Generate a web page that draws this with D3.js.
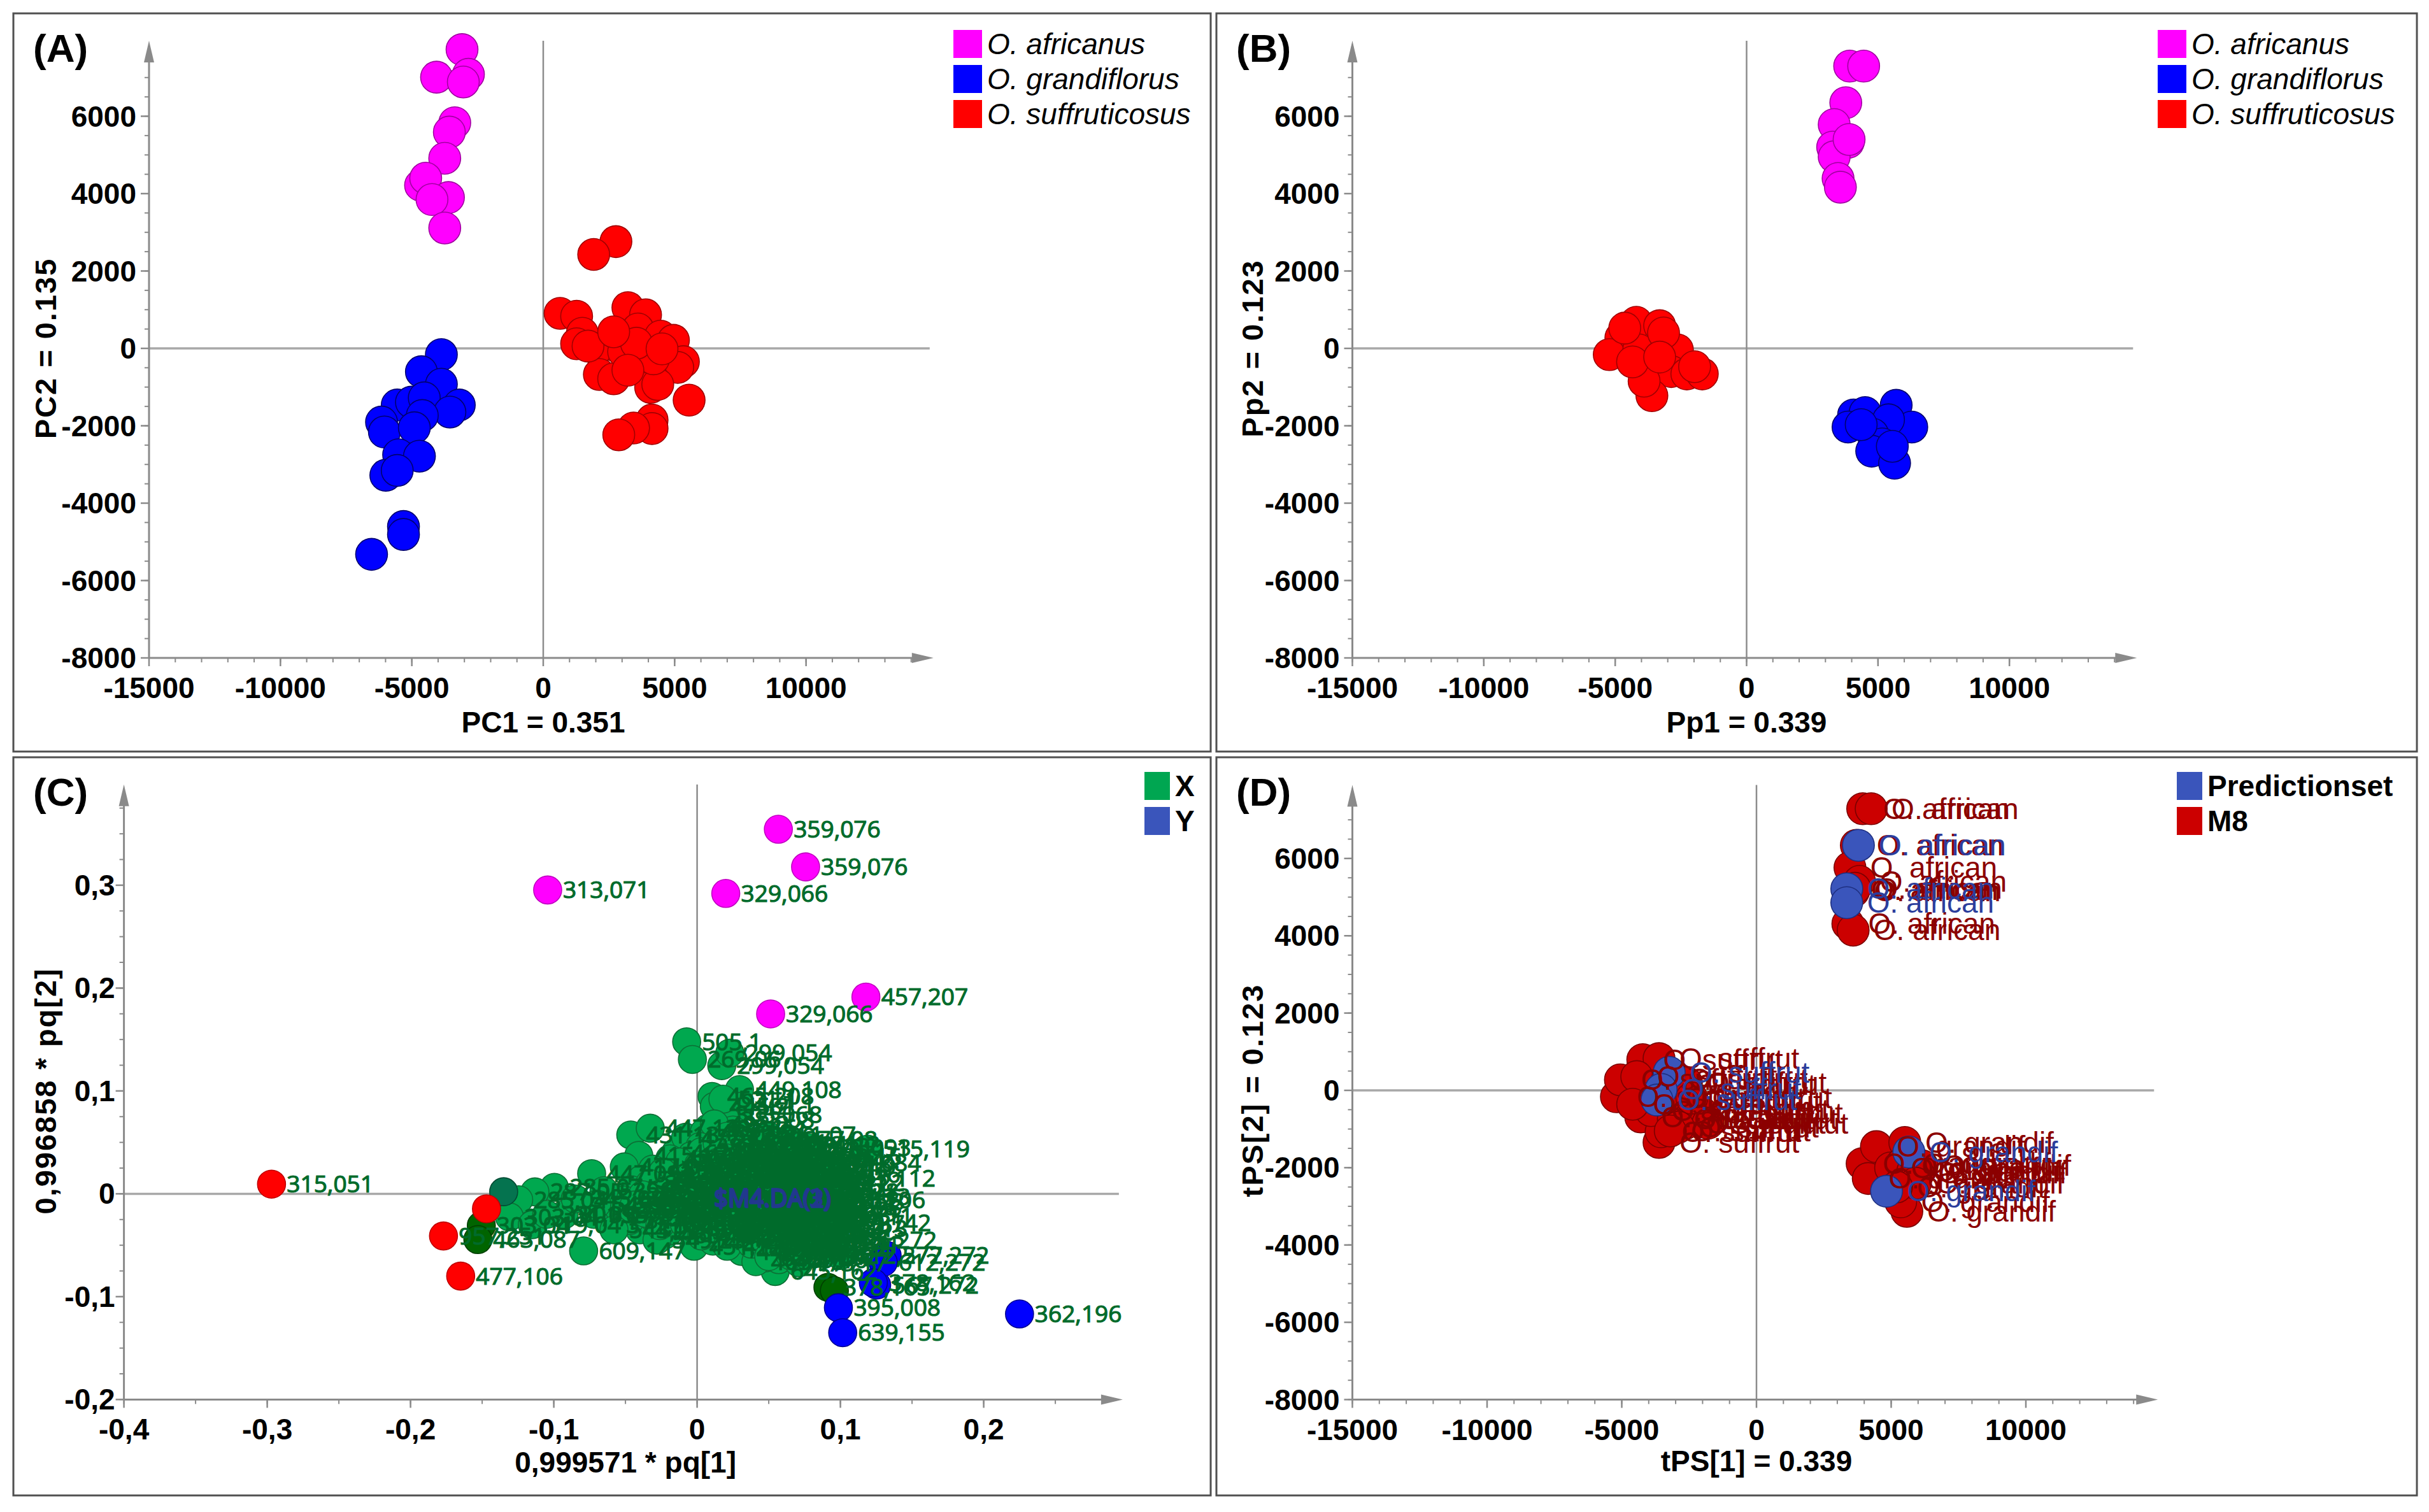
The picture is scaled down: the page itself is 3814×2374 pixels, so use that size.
<!DOCTYPE html>
<html><head><meta charset="utf-8">
<script src="https://cdn.jsdelivr.net/npm/d3@7"></script>
<style>html,body{margin:0;padding:0;background:#fff}</style>
</head><body>
<svg id="c" width="3814" height="2374" xmlns="http://www.w3.org/2000/svg"></svg>
<script>
// ---------------- DATA ----------------
const speciesNames = ["O. africanus", "O. grandiflorus", "O. suffruticosus"];
const speciesFill = ["#ff00ff", "#0000ff", "#ff0000"];
const speciesStroke = ["#a000a0", "#00006e", "#a00000"];

// Panel A (PCA scores)
const pcaAfricanus = [[-3090,7723],[-4060,7010],[-2847,7084],[-3041,6885],[-3367,5832],[-3573,5590],[-3748,4914],[-4668,4216],[-4473,4399],[-3607,3900],[-4233,3847],[-3748,3112]];
const pcaGrandiflorus = [[-3876,-161],[-4636,-603],[-3876,-926],[-5556,-1463],[-5015,-1389],[-4527,-1278],[-3194,-1463],[-3551,-1646],[-6153,-1904],[-6044,-2161],[-4602,-1735],[-4905,-2051],[-5502,-2750],[-4711,-2786],[-5990,-3278],[-5556,-3155],[-5318,-4603],[-5318,-4809],[-6532,-5323]];
const pcaSuffruticosus = [[2765,2760],[1920,2428],[641,906],[1270,832],[1488,390],[1270,119],[3221,1053],[3893,868],[3600,501],[4466,318],[4954,208],[2570,97],[2029,-13],[5333,-344],[5117,-491],[3653,-418],[4087,-675],[2136,-675],[2680,-786],[4087,-1007],[4357,-932],[5551,-1338],[4141,-1852],[4141,-2072],[3437,-2058],[2874,-2234],[3058,-87],[4197,-270],[1704,59],[3546,133],[3221,-565],[4520,-13],[2680,428]];

// Panel B (predictive scores)
const plsAfricanus = [[3922,7296],[4454,7296],[3774,6349],[3333,5787],[3864,5326],[3274,5201],[3333,4952],[3481,4390],[3568,4166],[3900,5400]];
const plsGrandiflorus = [[5691,-1471],[4070,-1720],[4510,-1658],[3860,-2033],[6284,-2033],[5400,-1845],[4800,-2219],[5160,-2468],[4760,-2656],[5631,-2968],[5545,-2530],[4360,-1970]];
const plsSuffruticosus = [[-4194,674],[-3308,587],[-4784,275],[-5226,-161],[-4105,-36],[-2633,-36],[-3750,-473],[-2866,-598],[-2274,-660],[-1686,-660],[-3604,-1221],[-3900,-847],[-3160,400],[-4636,524],[-4340,-349],[-3308,-224],[-1978,-473]];

// Panel C (loadings): [pq1, pq2, label]
const loadGreen = [
 [-0.0073,0.1478,"505,1"],[-0.0033,0.1306,"269,06"],[0.0172,0.1246,"299,054"],[0.0228,0.1368,"299,054"],
 [0.0104,0.0947,"465,208"],[0.0296,0.1013,"449,108"],[0.016,0.077,"303,068"],[0.030,0.085,"481,1"],
 [0.012,0.085,"445,2"],[0.020,0.072,"383,08"],[0.025,0.062,"375,1"],[0.008,0.064,"407,15"],[0.018,0.092,"521,1"],
 [-0.0463,0.0572,"431,13"],[-0.0327,0.0638,"447,13"],[-0.0407,0.0373,"415,17"],[-0.0736,0.0196,"447,092"],
 [-0.0508,0.0262,"417,09"],[-0.0996,0.0063,"285,07"],[-0.1132,0.0019,"287,05"],[-0.1245,-0.0058,"285,04"],
 [-0.0792,-0.0555,"609,147"],[-0.0021,-0.051,"451,12"],[-0.0225,-0.040,"463,12"],[0.0545,-0.0755,"645,162"],
 [0.0477,-0.0623,"627,16"],[0.0613,-0.060,"611,16"],[0.119,0.0434,"515,119"],[-0.131,-0.0224,"303,04"],
 [-0.0928,-0.0202,"301,07"],[-0.061,-0.0113,"431,15"],[-0.115,-0.030,"319,04"],[-0.105,-0.020,"331,09"],
 [-0.085,-0.005,"345,08"],[-0.072,-0.020,"359,1"],[-0.060,-0.030,"371,11"],[-0.045,-0.010,"389,12"],
 [-0.035,0.005,"401,1"],[-0.040,-0.035,"419,13"],[-0.025,-0.020,"433,14"],[-0.020,0.015,"445,15"],
 [-0.015,0.040,"461,15"],[-0.008,0.055,"477,17"],[0.005,0.060,"487,18"],[0.012,0.068,"493,2"],
 [0.095,0.015,"327,112"],[0.088,-0.006,"491,106"],[0.092,-0.028,"579,142"],[0.096,-0.045,"626,272"],
 [0.085,0.030,"283,084"],[0.078,0.045,"325,093"],[0.100,-0.060,"612,272"],
 [0.021,0.056,"313,09"],[0.036,0.052,"339,1"],[0.049,0.057,"361,07"],[0.064,0.053,"377,08"],
 [0.002,0.046,"383,11"],[0.016,0.043,"397,09"],[0.031,0.047,"405,12"],[0.044,0.041,"411,1"],[0.059,0.046,"423,13"],[0.071,0.042,"429,11"],
 [-0.019,0.034,"435,12"],[-0.004,0.037,"441,14"],[0.011,0.033,"453,13"],[0.024,0.036,"459,1"],[0.041,0.032,"467,15"],[0.054,0.037,"471,13"],[0.069,0.033,"475,14"],[0.081,0.036,"483,15"],
 [-0.031,0.024,"489,16"],[-0.011,0.027,"495,17"],[0.005,0.023,"499,15"],[0.019,0.026,"503,16"],[0.035,0.022,"509,17"],[0.047,0.027,"511,18"],[0.063,0.023,"517,17"],[0.077,0.026,"521,19"],
 [-0.039,0.014,"525,18"],[-0.021,0.017,"529,2"],[-0.007,0.013,"533,19"],[0.009,0.016,"537,21"],[0.027,0.012,"541,2"],[0.041,0.017,"547,22"],[0.059,0.013,"551,21"],[0.071,0.016,"555,23"],[0.083,0.011,"559,22"],
 [-0.046,0.004,"563,24"],[-0.029,0.007,"567,23"],[-0.013,0.003,"571,25"],[0.003,0.006,"575,24"],[0.017,0.002,"581,26"],[0.035,0.006,"585,25"],[0.049,0.003,"589,27"],[0.067,0.007,"593,26"],[0.079,0.002,"597,28"],
 [-0.051,-0.006,"601,27"],[-0.033,-0.003,"605,29"],[-0.019,-0.007,"613,28"],[-0.001,-0.004,"617,3"],[0.015,-0.006,"621,29"],[0.029,-0.003,"625,31"],[0.047,-0.007,"629,3"],[0.061,-0.004,"633,32"],[0.077,-0.006,"637,31"],[0.087,-0.003,"641,33"],
 [-0.054,-0.016,"283,05"],[-0.041,-0.013,"291,06"],[-0.023,-0.017,"295,07"],[-0.009,-0.014,"305,05"],[0.009,-0.016,"309,06"],[0.023,-0.013,"317,07"],[0.041,-0.017,"321,08"],[0.055,-0.014,"333,06"],[0.071,-0.016,"337,07"],[0.081,-0.013,"343,08"],
 [-0.047,-0.026,"347,09"],[-0.031,-0.023,"349,1"],[-0.013,-0.027,"353,07"],[0.001,-0.024,"357,08"],[0.019,-0.026,"363,09"],[0.033,-0.023,"367,1"],[0.051,-0.027,"369,11"],[0.065,-0.024,"373,09"],[0.079,-0.026,"379,1"],[0.089,-0.022,"381,11"],
 [-0.019,-0.036,"385,12"],[-0.003,-0.033,"391,1"],[0.013,-0.037,"393,11"],[0.027,-0.034,"399,12"],[0.045,-0.036,"403,13"],[0.059,-0.033,"407,11"],[0.075,-0.037,"409,12"],[0.085,-0.034,"413,13"],
 [0.011,-0.046,"421,14"],[0.025,-0.043,"425,12"],[0.043,-0.047,"427,13"],[0.057,-0.044,"437,14"],[0.069,-0.046,"439,15"],[0.083,-0.043,"443,13"],
 [0.031,-0.056,"449,14"],[0.046,-0.053,"455,15"],[0.062,-0.057,"457,16"],[0.074,-0.054,"463,14"],
 [0.041,-0.066,"465,15"],[0.057,-0.064,"469,16"],[0.071,-0.067,"473,17"],
 [0.008,0.029,"479,16"],[0.038,0.029,"485,17"],[0.052,0.009,"491,18"],[0.022,-0.009,"497,16"],[0.044,-0.020,"501,17"],[0.012,-0.030,"507,18"],
 [0.058,0.027,"513,19"],[0.030,0.040,"519,18"],[0.066,-0.010,"523,2"],[0.004,0.010,"527,19"],[0.036,-0.040,"531,2"],[0.050,0.048,"535,21"],
 [-0.065,0.003,"539,2"],[-0.058,-0.035,"543,22"],[-0.070,-0.010,"545,21"],[-0.028,-0.045,"549,23"],
 [0.003,0.041,"284,1"],[0.014,0.049,"286,11"],[0.027,0.044,"288,12"],[0.039,0.05,"290,1"],[0.052,0.043,"292,13"],[0.066,0.048,"294,12"],
 [-0.012,0.031,"296,1"],[0.001,0.028,"298,11"],[0.015,0.031,"300,13"],[0.029,0.03,"302,12"],[0.044,0.035,"304,1"],[0.061,0.031,"306,14"],[0.074,0.029,"308,13"],
 [-0.024,0.021,"310,12"],[-0.004,0.019,"312,14"],[0.012,0.021,"314,13"],[0.025,0.018,"316,15"],[0.039,0.024,"318,14"],[0.053,0.019,"320,16"],[0.067,0.021,"322,15"],[0.08,0.019,"324,16"],
 [-0.033,0.01,"326,15"],[-0.016,0.009,"328,17"],[-0.002,0.012,"330,16"],[0.013,0.009,"332,18"],[0.028,0.008,"334,17"],[0.043,0.011,"336,19"],[0.057,0.008,"338,18"],[0.073,0.01,"340,2"],
 [-0.038,-0.001,"342,19"],[-0.024,0.001,"344,21"],[-0.008,-0.001,"346,2"],[0.008,0.001,"348,22"],[0.023,-0.001,"350,21"],[0.04,0.001,"352,23"],[0.055,-0.001,"354,22"],[0.071,0.001,"356,24"],[0.083,-0.008,"358,23"],
 [-0.044,-0.011,"360,25"],[-0.028,-0.011,"362,24"],[-0.013,-0.009,"364,26"],[0.004,-0.011,"366,25"],[0.018,-0.01,"368,27"],[0.035,-0.011,"370,26"],[0.051,-0.009,"372,28"],[0.066,-0.012,"374,27"],[0.078,-0.019,"376,29"],
 [-0.036,-0.019,"378,28"],[-0.018,-0.021,"380,3"],[-0.004,-0.019,"382,29"],[0.013,-0.021,"384,31"],[0.029,-0.019,"386,3"],[0.047,-0.022,"388,32"],[0.06,-0.019,"390,31"],[0.073,-0.021,"392,33"],
 [-0.026,-0.031,"394,32"],[-0.009,-0.029,"396,34"],[0.007,-0.031,"398,33"],[0.022,-0.029,"400,35"],[0.039,-0.031,"402,34"],[0.054,-0.029,"404,36"],[0.069,-0.031,"406,35"],[0.083,-0.029,"408,37"],
 [0.003,-0.041,"410,36"],[0.018,-0.039,"412,38"],[0.033,-0.043,"414,37"],[0.05,-0.04,"416,39"],[0.064,-0.041,"418,38"],[0.077,-0.039,"420,4"],
 [0.021,-0.051,"422,39"],[0.038,-0.049,"424,41"],[0.053,-0.05,"426,4"],[0.067,-0.051,"428,42"],[0.08,-0.049,"430,41"],
 [0.05,-0.061,"432,43"],[0.065,-0.06,"434,42"],
 [0.034,0.015,"436,44"],[0.047,0.013,"438,43"],[0.062,0.004,"440,45"],[0.026,-0.016,"442,44"],[0.038,-0.026,"444,46"],[0.058,-0.024,"446,45"],[0.02,0.035,"448,47"],[0.045,0.022,"450,46"]
];
const loadTeal = [[-0.135,0.002,""]];
const loadDarkGreen = [[-0.1506,-0.031,"303,04"],[-0.153,-0.0445,"463,087"],[0.0913,-0.0909,"378,165"],[0.0958,-0.0942,""]];
const loadRed = [[-0.297,0.0094,"315,051"],[-0.147,-0.0146,""],[-0.177,-0.041,"957,251"],[-0.165,-0.080,"477,106"]];
const loadMagenta = [[0.0567,0.3544,"359,076"],[0.0757,0.3178,"359,076"],[-0.1043,0.2954,"313,071"],[0.020,0.292,"329,066"],[0.1178,0.1913,"457,207"],[0.0513,0.1749,"329,066"]];
const loadBlue = [[0.225,-0.1168,"362,196"],[0.0986,-0.1108,"395,008"],[0.1016,-0.135,"639,155"],[0.1253,-0.0887,"567,272"],[0.1326,-0.060,"577,272"],[0.1299,-0.0666,"612,272"],[0.123,-0.0865,"378,162"]];
const loadY = [[0.001,-0.004,"$M4.DA(1)"],[0.0015,-0.0055,"$M4.DA(2)"],[0.001,-0.005,"$M4.DA(3)"]];

// Panel D (prediction set vs model M8)
const m8Africanus = [[3943,7287],[4258,7287],[3707,6341],[3470,5764],[3825,5408],[3500,5190],[3600,5150],[3650,5230],[3392,4310],[3589,4145]];
const predAfricanus = [[3785,6341],[3352,5216],[3352,4858]];
const m8Suffrut = [[-5199,-166],[-4220,796],[-3617,822],[-5050,273],[-4444,356],[-4296,-687],[-3617,-1346],[-3541,-1072],[-3917,-523],[-3088,-743],[-2636,-852],[-2184,-743],[-4596,-358],[-3300,300],[-3000,150],[-2800,-300],[-2500,-500],[-2000,-600],[-1800,-850],[-3400,-200],[-2900,-950],[-3200,-1050],[-2600,200],[-2400,-200]];
const predSuffrut = [[-3239,466],[-3541,26],[-3693,-249]];
const m8Grandif = [[3922,-1896],[4452,-1456],[5506,-1346],[4149,-2280],[5582,-3131],[5355,-2884],[4979,-2005],[5400,-1900],[5800,-2100],[6150,-1950],[6000,-2150],[5900,-2400],[5200,-2500]];
const predGrandif = [[5657,-1594],[4827,-2609]];
const dLabels = ["O. african", "O. suffrut", "O. grandif"];

// Ticks
const scoreXTicks = [-15000,-10000,-5000,0,5000,10000];
const scoreYTicks = [-8000,-6000,-4000,-2000,0,2000,4000,6000];
const loadXTicks = [-0.4,-0.3,-0.2,-0.1,0,0.1,0.2];
const loadYTicks = [-0.2,-0.1,0,0.1,0.2,0.3];

// ---------------- DRAW ----------------
const FONT = "'Liberation Sans', Arial, Helvetica, sans-serif";
const svg = d3.select("#c");
svg.append("rect").attr("width",3814).attr("height",2374).attr("fill","#fff");

const scoreFmt = d => String(d);
const loadFmt = d => d === 0 ? "0" : (Math.round(d*10)/10).toString().replace(".", ",");

function drawPanel(p) {
  const g = svg.append("g");
  g.append("rect").attr("x",p.box[0]).attr("y",p.box[1])
    .attr("width",p.box[2]-p.box[0]).attr("height",p.box[3]-p.box[1])
    .attr("fill","none").attr("stroke","#505050").attr("stroke-width",3);
  const x = d3.scaleLinear().domain(p.xDomain).range(p.xRange);
  const y = d3.scaleLinear().domain(p.yDomain).range(p.yRange);
  const ax = p.xRange[0], ay = p.yRange[0];
  const tipX = x(p.xTip), tipY = y(p.yTip);
  const axisCol = "#8a8a8a";
  g.append("line").attr("x1",ax).attr("x2",tipX-6).attr("y1",y(0)).attr("y2",y(0))
    .attr("stroke","#a8a8a8").attr("stroke-width",3.5);
  g.append("line").attr("x1",x(0)).attr("x2",x(0)).attr("y1",ay).attr("y2",tipY)
    .attr("stroke","#8c8c8c").attr("stroke-width",2.5);
  g.append("line").attr("x1",ax).attr("x2",ax).attr("y1",ay).attr("y2",tipY+30)
    .attr("stroke",axisCol).attr("stroke-width",3);
  g.append("line").attr("x1",ax).attr("x2",tipX-30).attr("y1",ay).attr("y2",ay)
    .attr("stroke",axisCol).attr("stroke-width",3);
  g.append("path").attr("d",`M${ax-8},${tipY+34}L${ax+8},${tipY+34}L${ax},${tipY}Z`).attr("fill",axisCol);
  g.append("path").attr("d",`M${tipX-34},${ay-8}L${tipX-34},${ay+8}L${tipX},${ay}Z`).attr("fill",axisCol);
  g.selectAll(null).data(p.xMinor).enter().append("line")
    .attr("x1",d=>x(d)).attr("x2",d=>x(d)).attr("y1",ay).attr("y2",ay+7)
    .attr("stroke",axisCol).attr("stroke-width",2);
  g.selectAll(null).data(p.yMinor).enter().append("line")
    .attr("x1",ax-7).attr("x2",ax).attr("y1",d=>y(d)).attr("y2",d=>y(d))
    .attr("stroke",axisCol).attr("stroke-width",2);
  g.selectAll(null).data(p.xTicks).enter().append("line")
    .attr("x1",d=>x(d)).attr("x2",d=>x(d)).attr("y1",ay).attr("y2",ay+13)
    .attr("stroke",axisCol).attr("stroke-width",2.5);
  g.selectAll(null).data(p.yTicks).enter().append("line")
    .attr("x1",ax-13).attr("x2",ax).attr("y1",d=>y(d)).attr("y2",d=>y(d))
    .attr("stroke",axisCol).attr("stroke-width",2.5);
  g.selectAll(null).data(p.xTicks).enter().append("text")
    .attr("x",d=>x(d)).attr("y",ay+63).attr("text-anchor","middle")
    .attr("font-family",FONT).attr("font-weight","bold").attr("font-size",46)
    .text(p.fmt);
  g.selectAll(null).data(p.yTicks).enter().append("text")
    .attr("x",ax-p.yLabGap).attr("y",d=>y(d)+16).attr("text-anchor","end")
    .attr("font-family",FONT).attr("font-weight","bold").attr("font-size",46)
    .text(p.fmt);
  g.append("text").attr("x",(p.xRange[0]+p.xRange[1])/2).attr("y",p.xTitleY)
    .attr("text-anchor","middle").attr("font-family",FONT).attr("font-weight","bold")
    .attr("font-size",46).text(p.xTitle);
  g.append("text").attr("transform",`translate(${p.yTitleX},${(p.yRange[0]+p.yRange[1])/2}) rotate(-90)`)
    .attr("text-anchor","middle").attr("font-family",FONT).attr("font-weight","bold")
    .attr("font-size",47).attr("letter-spacing",2).text(p.yTitle);
  g.append("text").attr("x",p.box[0]+31).attr("y",p.box[1]+76)
    .attr("font-family",FONT).attr("font-weight","bold").attr("font-size",62).text(p.letter);
  p.legend.forEach((it,i) => {
    const cy = p.box[1] + p.legendTop + i*55;
    g.append("rect").attr("x",p.legendX).attr("y",cy-22).attr("width",p.legendW).attr("height",44).attr("fill",it.color);
    g.append("text").attr("x",p.legendX+p.legendW+8).attr("y",cy+16)
      .attr("font-family",FONT).attr("font-size",46)
      .attr("font-style",it.italic?"italic":"normal").attr("font-weight",it.bold?"bold":"normal")
      .text(it.name);
  });
  return {g,x,y};
}

function dots(P, data, r, fill, stroke) {
  P.g.selectAll(null).data(data).enter().append("circle")
    .attr("cx",d=>P.x(d[0])).attr("cy",d=>P.y(d[1])).attr("r",r)
    .attr("fill",fill).attr("stroke",stroke).attr("stroke-width",1.6);
}
function labels(P, data, textFn, dx, dy, font, size, color, sw) {
  P.g.selectAll(null).data(data).enter().append("text")
    .attr("x",d=>P.x(d[0])+dx).attr("y",d=>P.y(d[1])+dy)
    .attr("font-family",font).attr("font-size",size).attr("fill",color)
    .attr("stroke",sw?color:"none").attr("stroke-width",sw||0)
    .text(textFn);
}

const scoreLegend = speciesNames.map((n,i)=>({name:n,color:speciesFill[i],italic:true}));
const minorScoreX = d3.range(-15000,14001,1000);
const minorScoreY = d3.range(-8000,7001,500);

// Panel A
const A = drawPanel({box:[21,21,1901,1180], xDomain:[-15000,15000], xRange:[234,1472],
  yDomain:[-8000,8000], yRange:[1033,61], xTip:14850, yTip:7950,
  xTicks:scoreXTicks, yTicks:scoreYTicks, xMinor:minorScoreX, yMinor:minorScoreY, fmt:scoreFmt, yLabGap:20,
  xTitle:"PC1 = 0.351", yTitle:"PC2 = 0.135", xTitleY:1150, yTitleX:88, letter:"(A)",
  legend:scoreLegend, legendX:1497, legendW:45, legendTop:48});
dots(A, pcaAfricanus, 25, speciesFill[0], speciesStroke[0]);
dots(A, pcaGrandiflorus, 25, speciesFill[1], speciesStroke[1]);
dots(A, pcaSuffruticosus, 25, speciesFill[2], speciesStroke[2]);

// Panel B
const B = drawPanel({box:[1910,21,3795,1180], xDomain:[-15000,15000], xRange:[2123.5,3361.5],
  yDomain:[-8000,8000], yRange:[1033,61], xTip:14850, yTip:7950,
  xTicks:scoreXTicks, yTicks:scoreYTicks, xMinor:minorScoreX, yMinor:minorScoreY, fmt:scoreFmt, yLabGap:20,
  xTitle:"Pp1 = 0.339", yTitle:"Pp2 = 0.123", xTitleY:1150, yTitleX:1983, letter:"(B)",
  legend:scoreLegend, legendX:3388, legendW:45, legendTop:48});
dots(B, plsAfricanus, 25, speciesFill[0], speciesStroke[0]);
dots(B, plsGrandiflorus, 25, speciesFill[1], speciesStroke[1]);
dots(B, plsSuffruticosus, 25, speciesFill[2], speciesStroke[2]);

// Panel C
const C = drawPanel({box:[21,1189,1901,2348], xDomain:[-0.4,0.3], xRange:[194.6,1769.6],
  yDomain:[-0.2,0.4], yRange:[2197.4,1228.4], xTip:0.297, yTip:0.398,
  xTicks:loadXTicks, yTicks:loadYTicks, xMinor:d3.range(-0.4,0.26,0.05), yMinor:d3.range(-0.2,0.376,0.025),
  fmt:loadFmt, yLabGap:14,
  xTitle:"0,999571 * pq[1]", yTitle:"0,996858 * pq[2]", xTitleY:2312, yTitleX:88, letter:"(C)",
  legend:[{name:"X",color:"#00a651",bold:true},{name:"Y",color:"#3a55bb",bold:true}],
  legendX:1797, legendW:40, legendTop:45});
const CF = "'Open Sans', 'Noto Sans', sans-serif";
const CLab = "#006b2b";
dots(C, loadY, 22, "#3a55bb", "#1e2f80");
dots(C, loadGreen, 22, "#00a84f", "#0d6e35");
dots(C, loadTeal, 22, "#05734f", "#034a33");
dots(C, loadDarkGreen, 22, "#006400", "#003d00");
dots(C, loadRed, 22, "#ff0000", "#c00000");
dots(C, loadMagenta, 22, "#ff00ff", "#c000c0");
dots(C, loadBlue, 22, "#0000ff", "#000090");
[loadGreen, loadTeal, loadDarkGreen, loadRed, loadMagenta, loadBlue].forEach(arr =>
  labels(C, arr, d=>d[2], 24, 13, CF, 37, CLab, 1.2));
labels(C, loadY, d=>d[2], 24, 13, CF, 38, "#22388e", 1.6);

// Panel D
const D = drawPanel({box:[1910,1189,3795,2348], xDomain:[-15000,15000], xRange:[2123.5,3392.5],
  yDomain:[-8000,8000], yRange:[2197.5,1226.5], xTip:14900, yTip:7900,
  xTicks:scoreXTicks, yTicks:scoreYTicks, xMinor:minorScoreX, yMinor:minorScoreY, fmt:scoreFmt, yLabGap:20,
  xTitle:"tPS[1] = 0.339", yTitle:"tPS[2] = 0.123", xTitleY:2310, yTitleX:1983, letter:"(D)",
  legend:[{name:"Predictionset",color:"#3a55bb",bold:true},{name:"M8",color:"#cc0000",bold:true}],
  legendX:3418, legendW:40, legendTop:45});
const redF = "#cc0000", redS = "#7a0000", redT = "#8b0000";
const bluF = "#3a55bb", bluS = "#1e2f80", bluT = "#2c3e9c";
dots(D, m8Africanus, 25, redF, redS);
dots(D, m8Suffrut, 25, redF, redS);
dots(D, m8Grandif, 25, redF, redS);
dots(D, predAfricanus, 25, bluF, bluS);
dots(D, predSuffrut, 25, bluF, bluS);
dots(D, predGrandif, 25, bluF, bluS);
labels(D, m8Africanus, ()=>dLabels[0], 32, 16, FONT, 46, redT);
labels(D, m8Suffrut, ()=>dLabels[1], 32, 16, FONT, 46, redT);
labels(D, m8Grandif, ()=>dLabels[2], 32, 16, FONT, 46, redT);
labels(D, predAfricanus, ()=>dLabels[0], 32, 16, FONT, 46, bluT);
labels(D, predSuffrut, ()=>dLabels[1], 32, 16, FONT, 46, bluT);
labels(D, predGrandif, ()=>dLabels[2], 32, 16, FONT, 46, bluT);
</script>
</body></html>
